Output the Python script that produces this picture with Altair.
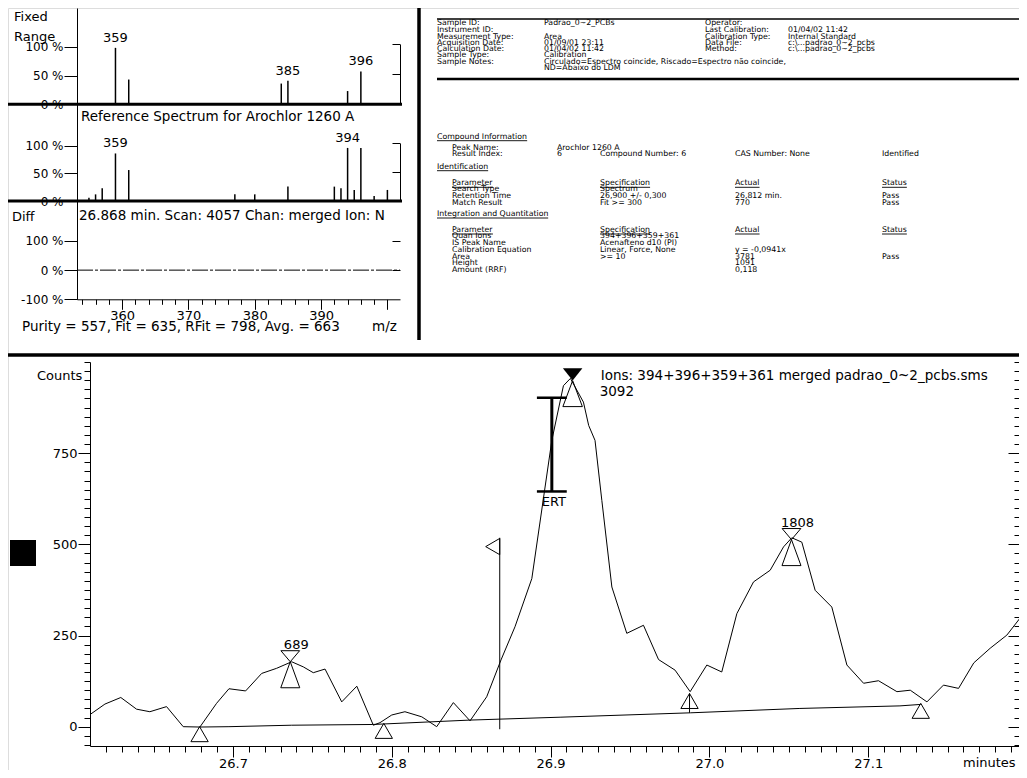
import altair as alt
import pandas as pd

FONT = "DejaVu Sans"
INK = "#000000"

# ======================= DATA =======================
# --- sample spectrum at 26.868 min (m/z, relative abundance %) ---
SAMPLE_MZ = [359, 361, 384, 385, 394, 396]
SAMPLE_PCT = [98, 43, 36, 41, 23, 57]
SAMPLE_TAG = ["359", "", "", "385", "", "396"]

# --- reference spectrum for Arochlor 1260 A ---
REF_MZ = [355, 356, 357, 359, 361, 377, 380, 385, 392, 393, 394, 395, 396, 398, 400]
REF_PCT = [6, 12, 23, 86, 56, 12, 12, 26, 26, 23, 96, 20, 96, 9, 20]
REF_TAG = ["", "", "", "359", "", "", "", "", "", "", "394", "", "", "", ""]

MZ_MAJOR = [360, 370, 380, 390, 400]
PCT_TICKS = [0, 50, 100]
DIFF_TICKS = [-100, 0, 100]

FREE_TEXTS = [
    "Fixed", "Range", "Diff",
    "Reference Spectrum for Arochlor 1260 A",
    "26.868 min. Scan: 4057 Chan: merged Ion: N",
    "Purity = 557, Fit = 635, RFit = 798, Avg. = 663",
    "m/z",
    "Ions: 394+396+359+361 merged padrao_0~2_pcbs.sms",
    "Counts",
    "minutes",
]

# --- chromatogram, ions 394+396+359+361 (minutes, counts) ---
TIME = [26.6106, 26.6194, 26.6294, 26.6393, 26.6477, 26.6582, 26.6687, 26.6792,
        26.6897, 26.6975, 26.7080, 26.7181, 26.7275, 26.7370, 26.7443, 26.7506,
        26.7580, 26.7685, 26.7780, 26.7884, 26.7926, 26.8000, 26.8083, 26.8189,
        26.8283, 26.8388, 26.8493, 26.8598, 26.8688, 26.8776, 26.8882, 26.9008,
        26.9081, 26.9125, 26.9207, 26.9240, 26.9280, 26.9323, 26.9386, 26.9480,
        26.9585, 26.9680, 26.9784, 26.9879, 26.9984, 27.0078, 27.0173, 27.0278,
        27.0383, 27.0467, 27.0519, 27.0582, 27.0666, 27.0771, 27.0866, 27.0971,
        27.1065, 27.1181, 27.1265, 27.1370, 27.1474, 27.1569, 27.1665, 27.1768,
        27.1873, 27.1978, 27.2000]
COUNTS = [35, 62, 80, 48, 41, 55, 0, -1,
          64, 104, 98, 146, 160, 178, 164, 148,
          158, 68, 111, 4, 11, 32, 41, 27,
          0, 66, 16, 82, 183, 274, 406, 785,
          935, 955, 890, 826, 785, 620, 383, 256,
          278, 184, 155, 96, 169, 150, 310, 397,
          429, 493, 518, 506, 374, 328, 169, 119,
          126, 96, 100, 68, 114, 105, 175, 215,
          251, 310, 322]

BASE_T = [26.679, 26.6975, 26.737, 26.788, 26.849, 26.906, 26.988, 27.057, 27.120, 27.133]
BASE_C = [-1, 0, 4, 6, 18, 26, 38, 50, 57, 61]

EVENT_T = [26.679, 26.795, 26.9875, 27.1331]      # integration start/end marks
EVENT_C = [0, 9, 91, 64]
DROP_T, DROP_LO, DROP_HI = [26.9875], [38], [91]  # valley drop line

SCAN_T, SCAN_LO, SCAN_HI = [26.868], [-7], [518]  # scan of the spectrum shown

APEX_T = [26.7361, 27.0517]
APEX_C = [178, 513]
APEX_TAG = ["689", "1808"]
MAIN_T, MAIN_C, MAIN_TAG = [26.9139], [949], ["3092"]

ERT_T, ERT_LO, ERT_HI, ERT_HALF = 26.9008, 645, 902, 0.0094

COUNT_MAJOR = [0, 250, 500, 750]
TIME_MAJOR = [26.7, 26.8, 26.9, 27.0, 27.1]

# --- information panel (upper right) ---
HEADER_LABELS = ["Sample ID:", "Instrument ID:", "Measurement Type:", "Acquisition Date:",
                 "Calculation Date:", "Sample Type:", "Sample Notes:", ""]
HEADER_VALUES = ["Padrao_0~2_PCBs", "", "Area", "01/09/01 23:11", "01/04/02 11:42",
                 "Calibration",
                 "Circulado=Espectro coincide, Riscado=Espectro não coincide,",
                 "ND=Abaixo do LDM"]
HEADER_LABELS2 = ["Operator:", "Last Calibration:", "Calibration Type:", "Data File:",
                  "Method:", "", "", ""]
HEADER_VALUES2 = ["", "01/04/02 11:42", "Internal Standard", "c:\\...padrao_0~2_pcbs",
                  "c:\\...padrao_0~2_pcbs", "", "", ""]

COMPOUND_ROWS = [
    [("H", "Compound Information", True)],
    [("L", "Peak Name:"), ("V", "Arochlor 1260 A")],
    [("L", "Result Index:"), ("V", "6"), ("S", "Compound Number: 6"),
     ("A", "CAS Number: None"), ("T", "Identified")],
    [("H", "Identification", True)],
    [("L", "Parameter", True), ("S", "Specification", True), ("A", "Actual", True),
     ("T", "Status", True)],
    [("L", "Search Type"), ("S", "Spectrum")],
    [("L", "Retention Time"), ("S", "26,900 +/- 0,300"), ("A", "26,812 min."), ("T", "Pass")],
    [("L", "Match Result"), ("S", "Fit >= 300"), ("A", "770"), ("T", "Pass")],
    [("H", "Integration and Quantitation", True)],
    [("L", "Parameter", True), ("S", "Specification", True), ("A", "Actual", True),
     ("T", "Status", True)],
    [("L", "Quan Ions"), ("S", "394+396+359+361")],
    [("L", "IS Peak Name"), ("S", "Acenafteno d10 (PI)")],
    [("L", "Calibration Equation"), ("S", "Linear, Force, None"), ("A", "y = -0,0941x")],
    [("L", "Area"), ("S", ">= 10"), ("A", "3781"), ("T", "Pass")],
    [("L", "Height"), ("A", "1091")],
    [("L", "Amount (RRF)"), ("A", "0,118")],
]

# ======================= LAYOUT (page pixels) =======================
W, H = 1011, 762
M = 8


def px(v):
    return v - M


FREE_POS = [(14, 17), (14, 37), (12, 217), (81, 117), (79, 216), (22, 327),
            (372, 327), (600.7, 375.5), (37, 375.7), (963, 763)]
FREE_SIZE = [13, 13, 13, 13.5, 13.5, 13.5, 13.5, 13.5, 13, 13]
HEADER_COL_X = [437, 544, 705, 788]
HEADER_ROW_Y = [22.7, 30, 36.7, 42.7, 49.3, 55, 61.7, 68.3]
COMP_COL_X = {"H": 437, "L": 452, "V": 557, "S": 600, "A": 735, "T": 882}
COMP_ROW_Y = [136.7, 148.3, 154, 166.7, 183.3, 189, 196, 203.3, 214, 230, 235.7,
              243.3, 250, 256.7, 263.3, 270]
SEPARATORS = [  # x, x2, y, y2, width
    (8, 1027, 355, 355, 3.5),
    (419, 419, 8, 340, 3.5),
    (437, 1027, 19, 19, 1.5),
    (437, 1027, 79, 79, 2.5),
]
INFO_SIZE = 7.8
DV = {' ': .318, 'A': .684, 'C': .698, 'I': .295, 'P': .603, 'Q': .787, 'S': .635,
      'a': .613, 'c': .55, 'd': .635, 'e': .615, 'f': .352, 'i': .278, 'l': .278,
      'm': .974, 'n': .634, 'o': .612, 'p': .635, 'r': .411, 's': .521, 't': .392,
      'u': .634}


def text_w(s, size):
    return sum(DV.get(ch, 0.6) for ch in s) * size


def axis(**kw):
    opts = dict(grid=False, title=None, domainColor=INK, tickColor=INK, labelColor=INK,
                labelFont=FONT, labelFlush=False, labelOverlap=False, domainWidth=1,
                tickWidth=1)
    opts.update(kw)
    return alt.Axis(**opts)


def x_ticks(values, scale, **kw):
    return alt.Chart(pd.DataFrame({"v": values})).mark_point(opacity=0).encode(
        x=alt.X("v:Q", scale=scale, axis=axis(values=values, **kw)))


def y_ticks(values, scale, **kw):
    return alt.Chart(pd.DataFrame({"v": values})).mark_point(opacity=0).encode(
        y=alt.Y("v:Q", scale=scale, axis=axis(values=values, **kw)))


def lin(domain, rng):
    return alt.Scale(domain=domain, range=rng, nice=False, zero=False)


# ======================= SPECTRA =======================
mz_scale = lin([353.2, 401.9], [px(77), px(400)])
p1_y = lin([0, 167.2], [px(104.3), px(8)])
p2_y = lin([0, 174.9], [px(201), px(104.3)])
p3_y = lin([-100, 237], [px(299.3), px(201)])


def pct_axis(values, scale):
    return y_ticks(values, scale, orient="left", offset=-px(77), tickSize=13,
                   labelPadding=1, labelFontSize=12, labelExpr="datum.value + ' %'")


def spectrum(mz, pct, tag, yscale):
    df = pd.DataFrame({"mz": mz, "pct": pct, "tag": tag})
    sticks = alt.Chart(df).mark_rule(color=INK, strokeWidth=1.5).encode(
        x=alt.X("mz:Q", scale=mz_scale, axis=None),
        y=alt.Y("pct:Q", scale=yscale, axis=None),
        y2=alt.datum(0))
    tags = alt.Chart(df).transform_filter("datum.tag != ''").mark_text(
        font=FONT, fontSize=13, baseline="alphabetic", dy=-6, color=INK).encode(
        x=alt.X("mz:Q", scale=mz_scale, axis=None),
        y=alt.Y("pct:Q", scale=yscale, axis=None),
        text="tag:N")
    zero = alt.Chart(pd.DataFrame({"z": [0]})).mark_rule(color=INK, strokeWidth=3).encode(
        y=alt.Y("z:Q", scale=yscale, axis=None),
        x=alt.value(px(8)), x2=alt.value(px(402)))
    return alt.layer(sticks, tags, zero)


panel1 = spectrum(SAMPLE_MZ, SAMPLE_PCT, SAMPLE_TAG, p1_y)
panel2 = spectrum(REF_MZ, REF_PCT, REF_TAG, p2_y)
axis1 = pct_axis(PCT_TICKS, p1_y)
axis2 = pct_axis(PCT_TICKS, p2_y)
axis3 = pct_axis(DIFF_TICKS, p3_y)
right1 = y_ticks([50, 100], lin([0, 100], [px(104.3), px(44.3)]), orient="left",
                 offset=-px(400), tickSize=8, labels=False)
right2 = y_ticks([50, 100], lin([0, 100], [px(201), px(143.3)]), orient="left",
                 offset=-px(400), tickSize=8, labels=False)

diff_line = alt.Chart(pd.DataFrame({"z": [0]})).mark_rule(
    color=INK, strokeWidth=1, strokeDash=[16, 2, 3, 2]).encode(
    y=alt.Y("z:Q", scale=p3_y, axis=None),
    x=alt.value(px(77)), x2=alt.value(px(400)))
right3 = y_ticks([0, 100], p3_y, orient="left", offset=-px(400), tickSize=8,
                 labels=False, domain=False)
mz_major = x_ticks(MZ_MAJOR, mz_scale, orient="bottom", offset=px(299.3) - H, tickSize=10,
                   labelPadding=0, labelFontSize=13,
                   labelExpr="datum.value < 400 ? datum.label : ''")
mz_minor = x_ticks([v for v in range(354, 401, 2) if v % 10 != 0], mz_scale,
                   orient="bottom", offset=px(299.3) - H, tickSize=5, labels=False,
                   domain=False)

# ======================= FREE TEXT, SEPARATORS =======================
lab_df = pd.DataFrame({"text": FREE_TEXTS,
                       "x": [px(p[0]) for p in FREE_POS],
                       "y": [px(p[1]) for p in FREE_POS],
                       "fs": FREE_SIZE})
labels = alt.Chart(lab_df).mark_text(font=FONT, align="left",
                                     baseline="middle", color=INK).encode(
    x=alt.X("x:Q", scale=None, axis=None), y=alt.Y("y:Q", scale=None, axis=None),
    size=alt.Size("fs:Q", scale=None, legend=None),
    text="text:N")

sep_df = pd.DataFrame([dict(x=px(a), x2=px(b), y=px(c), y2=px(d), w=w)
                       for a, b, c, d, w in SEPARATORS])
separators = alt.Chart(sep_df).mark_rule(color=INK).encode(
    x=alt.X("x:Q", scale=None, axis=None), x2="x2:Q",
    y=alt.Y("y:Q", scale=None, axis=None), y2="y2:Q",
    strokeWidth=alt.StrokeWidth("w:Q", scale=None, legend=None))

square = alt.Chart(pd.DataFrame({"k": [0]})).mark_square(
    size=676, color=INK, filled=True, opacity=1).encode(
    x=alt.value(px(23)), y=alt.value(px(553)))

# ======================= INFORMATION PANEL =======================
info_cells, info_under = [], []
for i, row in enumerate(zip(HEADER_LABELS, HEADER_VALUES, HEADER_LABELS2, HEADER_VALUES2)):
    for cx, txt in zip(HEADER_COL_X, row):
        if txt:
            info_cells.append(dict(x=px(cx), y=px(HEADER_ROW_Y[i]), text=txt))
for i, row in enumerate(COMPOUND_ROWS):
    for cell in row:
        key, txt = cell[0], cell[1]
        x0, y0 = px(COMP_COL_X[key]), px(COMP_ROW_Y[i])
        info_cells.append(dict(x=x0, y=y0, text=txt))
        if len(cell) > 2 and cell[2]:
            info_under.append(dict(x=x0, x2=x0 + text_w(txt, INFO_SIZE), y=y0 + 4))

info_text = alt.Chart(pd.DataFrame(info_cells)).mark_text(
    font=FONT, fontSize=INFO_SIZE, align="left", baseline="middle", color=INK).encode(
    x=alt.X("x:Q", scale=None, axis=None), y=alt.Y("y:Q", scale=None, axis=None),
    text="text:N")
info_lines = alt.Chart(pd.DataFrame(info_under)).mark_rule(color=INK, strokeWidth=0.9).encode(
    x=alt.X("x:Q", scale=None, axis=None), x2="x2:Q",
    y=alt.Y("y:Q", scale=None, axis=None))

# ======================= CHROMATOGRAM =======================
t_scale = lin([26.61, 27.2], [px(90), px(1027)])
c_scale = lin([-53, 1000], [px(746), px(362)])


def TX(field="t"):
    return alt.X(f"{field}:Q", scale=t_scale, axis=None)


def CY(field="c"):
    return alt.Y(f"{field}:Q", scale=c_scale, axis=None)


HG = "M0,0L-0.72,-0.85L0.72,-0.85ZM0,0L-0.73,2L0.73,2Z"
HG_DOWN = "M0,0L-0.75,-0.95L0.75,-0.95Z"
HG_UP = "M0,0L-0.75,2L0.75,2Z"
FLAG = "M0,0.05L0,1.3L-1.08,0.68Z"

chrom_df = pd.DataFrame({"t": TIME, "c": COUNTS})
trace = alt.Chart(chrom_df).mark_line(color=INK, strokeWidth=1).encode(x=TX(), y=CY())

baseline = alt.Chart(pd.DataFrame({"t": BASE_T, "c": BASE_C})).mark_line(
    color=INK, strokeWidth=1).encode(x=TX(), y=CY())

events = alt.Chart(pd.DataFrame({"t": EVENT_T, "c": EVENT_C})).mark_point(
    shape="triangle-up", size=300, filled=False, color=INK, strokeWidth=1,
    yOffset=7.5, opacity=1).encode(x=TX(), y=CY())

drop = alt.Chart(pd.DataFrame({"t": DROP_T, "lo": DROP_LO, "hi": DROP_HI})).mark_rule(
    color=INK, strokeWidth=1).encode(x=TX(), y=CY("lo"), y2="hi:Q")

scan_df = pd.DataFrame({"t": SCAN_T, "lo": SCAN_LO, "hi": SCAN_HI})
scan_line = alt.Chart(scan_df).mark_rule(color=INK, strokeWidth=1).encode(
    x=TX(), y=CY("lo"), y2="hi:Q")
scan_flag = alt.Chart(scan_df).mark_point(shape=FLAG, size=676, filled=False, color=INK,
                                          strokeWidth=1, opacity=1).encode(x=TX(), y=CY("hi"))

apex_df = pd.DataFrame({"t": APEX_T, "c": APEX_C, "tag": APEX_TAG})
apex_marks = alt.Chart(apex_df).mark_point(shape=HG, size=676, filled=False, color=INK,
                                           strokeWidth=1, opacity=1).encode(x=TX(), y=CY())
apex_tags = alt.Chart(apex_df).mark_text(font=FONT, fontSize=13, baseline="alphabetic",
                                         dx=6, dy=-13, color=INK).encode(
    x=TX(), y=CY(), text="tag:N")

main_df = pd.DataFrame({"t": MAIN_T, "c": MAIN_C, "tag": MAIN_TAG})
main_down = alt.Chart(main_df).mark_point(shape=HG_DOWN, size=676, filled=True, color=INK,
                                          opacity=1).encode(x=TX(), y=CY())
main_up = alt.Chart(main_df).mark_point(shape=HG_UP, size=676, filled=False, color=INK,
                                        strokeWidth=1, opacity=1).encode(x=TX(), y=CY())
main_tag = alt.Chart(main_df).mark_text(font=FONT, fontSize=13.5, align="left",
                                        baseline="alphabetic", dx=27, dy=15,
                                        color=INK).encode(x=TX(), y=CY(), text="tag:N")

ert_df = pd.DataFrame({"t": [ERT_T], "lo": [ERT_LO], "hi": [ERT_HI], "tag": ["ERT"]})
caps_df = pd.DataFrame({"t1": [ERT_T - ERT_HALF] * 2, "t2": [ERT_T + ERT_HALF] * 2,
                        "c": [ERT_LO, ERT_HI]})
ert_bar = alt.Chart(ert_df).mark_rule(color=INK, strokeWidth=3).encode(
    x=TX(), y=CY("lo"), y2="hi:Q")
ert_caps = alt.Chart(caps_df).mark_rule(color=INK, strokeWidth=2.5).encode(
    x=TX("t1"), x2="t2:Q", y=CY())
ert_tag = alt.Chart(ert_df).mark_text(font=FONT, fontSize=13, align="center",
                                      baseline="top", dx=2, dy=5, color=INK).encode(
    x=TX(), y=CY("lo"), text="tag:N")

chromatogram = alt.layer(trace, baseline, drop, scan_line, scan_flag, events, apex_marks,
                         apex_tags, main_up, main_down, main_tag, ert_bar, ert_caps, ert_tag)

count_minor = [v for v in range(-50, 1001, 25) if v % 250 != 0 or v == 1000]
time_minor = [round(26.62 + 0.01 * i, 2) for i in range(58)
              if round((26.62 + 0.01 * i) * 100) % 10 != 0]
t_major = x_ticks(TIME_MAJOR, t_scale, orient="bottom", offset=px(746) - H, tickSize=11,
                  labelPadding=0, labelFontSize=13,
                  labelExpr="format(datum.value, '.1f')")
c_major = y_ticks(COUNT_MAJOR, c_scale, orient="left", offset=-px(90), tickSize=12,
                  labelPadding=1, labelFontSize=13)
c_minor = y_ticks(count_minor, c_scale, orient="left", offset=-px(90), tickSize=6,
                  labels=False, domain=False)
t_minor = x_ticks(time_minor, t_scale, orient="bottom", offset=px(746) - H, tickSize=6,
                  labels=False, domain=False)
r_major = y_ticks(COUNT_MAJOR, c_scale, orient="left", offset=-W, tickSize=11,
                  labels=False, domain=False)
r_minor = y_ticks(count_minor, c_scale, orient="left", offset=-W, tickSize=5,
                  labels=False, domain=False)

chart = alt.layer(
    separators, panel1, axis1, right1, panel2, axis2, right2, diff_line, axis3, right3,
    mz_major, mz_minor, labels, square, info_text, info_lines, chromatogram,
    t_major, c_major, c_minor, t_minor, r_major, r_minor
).resolve_scale(x="independent", y="independent").properties(
    width=W, height=H, autosize=alt.AutoSizeParams(type="none"), padding=0,
    background="white"
).configure_view(stroke=None).configure(font=FONT)

chart.save("out.html", embed_options={"renderer": "svg", "actions": False})
